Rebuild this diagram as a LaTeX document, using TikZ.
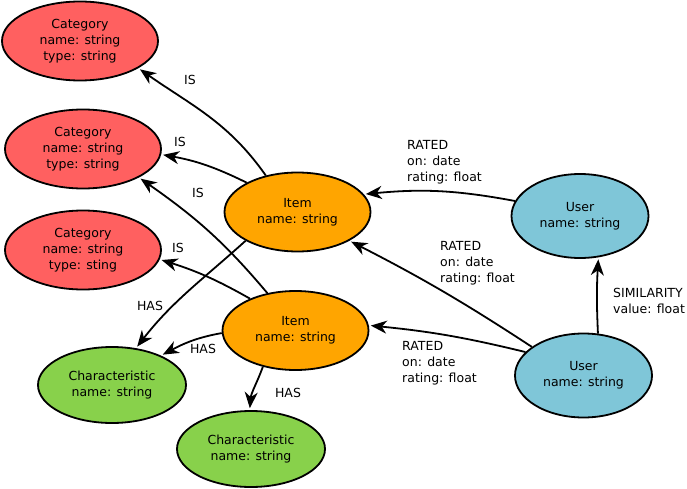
\documentclass[tikz,border=0pt]{standalone}
\usepackage{fontspec}
\setmainfont{DejaVu Sans}
\usetikzlibrary{shapes.geometric,arrows.meta}
\definecolor{catred}{HTML}{FF6060}
\definecolor{itemorange}{HTML}{FFA500}
\definecolor{chargreen}{HTML}{88D14B}
\definecolor{userblue}{HTML}{7FC6D8}
\begin{document}
\begin{tikzpicture}[x=1pt,y=-1pt,
  every node/.style={font=\fontsize{12.5}{16}\selectfont},
  ent/.style={ellipse,draw=black,line width=1.8pt,inner sep=0pt,align=center},
  cat/.style={ent,fill=catred,minimum width=156pt,minimum height=79pt},
  itm/.style={ent,fill=itemorange,minimum width=146pt,minimum height=79pt},
  chr/.style={ent,fill=chargreen,minimum width=148pt,minimum height=76pt},
  usr/.style={ent,fill=userblue,minimum width=137pt,minimum height=84pt},
  edge/.style={draw=black,line width=1.8pt,-{Stealth[length=16pt,width=13pt,inset=5pt]},shorten >=2pt},
  lbl/.style={inner sep=0pt,align=left}]
\useasboundingbox (0,0) rectangle (687,489);
% nodes
\node[cat] (c1) at (80,41) {Category\\name: string\\type: string};
\node[cat] (c2) at (83,149) {Category\\name: string\\type: string};
\node[cat] (c3) at (83,250) {Category\\name: string\\type: sting};
\node[itm] (i1) at (297.5,212) {Item\\name: string};
\node[itm] (i2) at (295.5,330.5) {Item\\name: string};
\node[chr] (h1) at (112,385) {Characteristic\\name: string};
\node[chr] (h2) at (251,449) {Characteristic\\name: string};
\node[usr] (u1) at (580,216) {User\\name: string};
\node[usr] (u2) at (583.5,375.5) {User\\name: string};
% edges
\draw[edge] (i1.131) to[out=125,in=-35] (c1.-25);
\draw[edge] (i1.150) to[bend right=8] (c2.-4);
\draw[edge] (i2.127) to[out=130,in=-35] (c2.-27);
\draw[edge] (i2.145) to[bend right=6] (c3.-7);
\draw[edge] (i1.209) to[out=222,in=52] (h1.57);
\draw[edge] (i2.182) to[out=190,in=28] (h1.31);
\draw[edge] (i2.228) to[out=250,in=85] (h2.92);
\draw[edge] (u1.167) to[bend right=8] (i1.15);
\draw[edge] (u2.151) to[bend right=3] (i1.-29);
\draw[edge] (u2.158) to[bend right=4] (i2.4);
\draw[edge] (u2.71) to[bend left=3] (u1.-66);
% labels
\node[lbl] (l1) at (190,80) {IS};
\node[lbl] (l2) at (180,142) {IS};
\node[lbl] (l3) at (198,193) {IS};
\node[lbl] (l4) at (178,248) {IS};
\node[lbl] (l5) at (150,306) {HAS};
\node[lbl] (l6) at (203,349) {HAS};
\node[lbl] (l7) at (288,393) {HAS};
\node[lbl,anchor=west] (r1) at (407,162) {RATED\\on: date\\rating: float};
\node[lbl,anchor=west] (r2) at (440,263) {RATED\\on: date\\rating: float};
\node[lbl,anchor=west] (r3) at (402,363) {RATED\\on: date\\rating: float};
\node[lbl,anchor=west] (s1) at (613,301) {SIMILARITY\\value: float};
\end{tikzpicture}
\end{document}
